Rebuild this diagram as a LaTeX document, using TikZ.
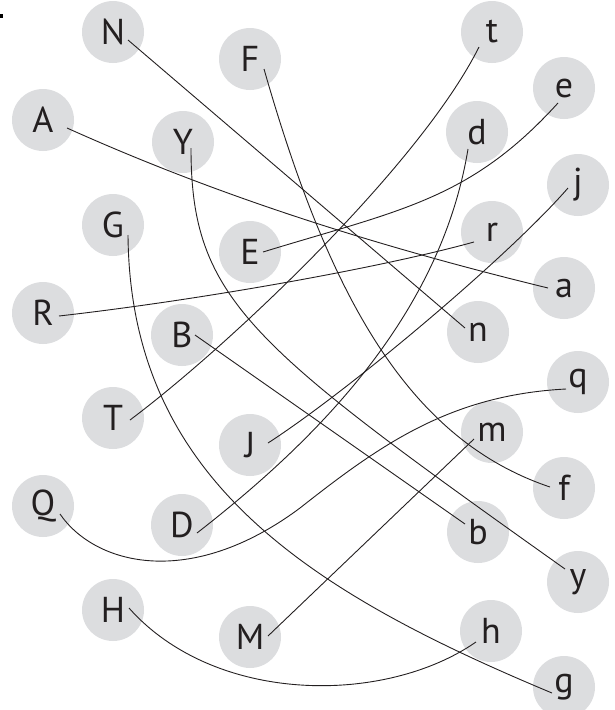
\documentclass[tikz,border=0pt]{standalone}
\usepackage{fontspec}
\setmainfont{PT Sans}
\definecolor{disc}{RGB}{220,221,223}
\definecolor{ink}{RGB}{35,31,32}
\begin{document}
\begin{tikzpicture}[x=1pt,y=-1pt,
  letter/.style={circle,fill=disc,minimum size=62pt,inner sep=0pt,
    font=\fontsize{36}{40}\selectfont,text=ink},
  wire/.style={draw=ink,line width=0.9pt}]
\useasboundingbox (0,0) rectangle (614,710);
\fill[black] (0,14) rectangle (3,18);
% nodes
\node[letter] (N) at (113,32) {N};
\node[letter] (F) at (250,59) {F};
\node[letter] (t) at (492,32) {t};
\node[letter] (e) at (564,88) {e};
\node[letter] (A) at (43,120) {A};
\node[letter] (Y) at (183,142) {Y};
\node[letter] (d) at (477,132) {d};
\node[letter] (j) at (578,185) {j};
\node[letter] (G) at (113,225) {G};
\node[letter] (E) at (250,252) {E};
\node[letter] (r) at (492,232) {r};
\node[letter] (a) at (564,288) {a};
\node[letter] (R) at (43,313) {R};
\node[letter] (B) at (182,335) {B};
\node[letter] (n) at (478,332) {n};
\node[letter] (q) at (578,382) {q};
\node[letter] (T) at (113,418) {T};
\node[letter] (J) at (250,445) {J};
\node[letter] (m) at (492,432) {m};
\node[letter] (f) at (564,488) {f};
\node[letter] (Q) at (43,506) {Q};
\node[letter] (D) at (182,525) {D};
\node[letter] (b) at (478,532) {b};
\node[letter] (y) at (578,582) {y};
\node[letter] (H) at (113,610) {H};
\node[letter] (M) at (250,637) {M};
\node[letter] (h) at (491,631) {h};
\node[letter] (g) at (564,687) {g};
% connectors
\draw[wire] ([shift={(15,8)}]N.center) -- ([shift={(-13,-4)}]n.center);
\draw[wire] ([shift={(24,8)}]A.center) .. controls (227,200) and (388,249) .. ([shift={(-16,0)}]a.center);
\draw[wire] ([shift={(8,6)}]Y.center) .. controls (191,300) and (250,345) .. ([shift={(-13,-13)}]y.center);
\draw[wire] ([shift={(15,10)}]G.center) .. controls (130,480) and (310,592) .. ([shift={(-12,6)}]g.center);
\draw[wire] ([shift={(14,10)}]F.center) .. controls (330,300) and (410,440) .. ([shift={(-14,-1)}]f.center);
\draw[wire] ([shift={(-13,15)}]t.center) .. controls (420,165) and (230,345) .. ([shift={(17,2)}]T.center);
\draw[wire] ([shift={(-6,15)}]e.center) .. controls (470,200) and (400,210) .. ([shift={(13,0)}]E.center);
\draw[wire] ([shift={(-9,17)}]d.center) .. controls (440,320) and (310,445) .. ([shift={(15,8)}]D.center);
\draw[wire] ([shift={(-10,3)}]j.center) .. controls (510,255) and (350,390) .. ([shift={(18,-2)}]J.center);
\draw[wire] ([shift={(-18,10)}]r.center) .. controls (380,268) and (200,300) .. ([shift={(16,3)}]R.center);
\draw[wire] ([shift={(13,0)}]B.center) -- ([shift={(-13,-8)}]b.center);
\coordinate (qbend) at (300,508);
\draw[wire] ([shift={(17,8)}]Q.center) .. controls (95,565) and (190,590) .. (qbend)
  .. controls (380,445) and (450,395) .. ([shift={(-12,7)}]q.center);
\draw[wire] ([shift={(-18,7)}]m.center) -- ([shift={(18,-1)}]M.center);
\draw[wire] ([shift={(16,-2)}]H.center) .. controls (215,705) and (385,705) .. ([shift={(-15,11)}]h.center);
\end{tikzpicture}
\end{document}
